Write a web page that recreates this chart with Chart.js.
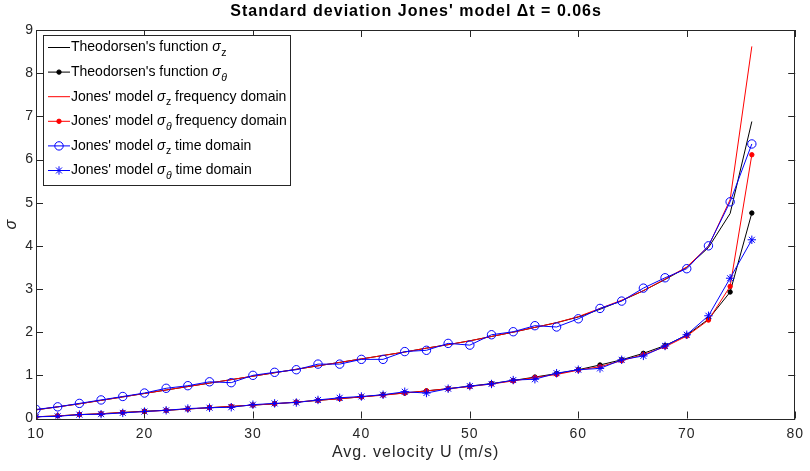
<!DOCTYPE html>
<html><head><meta charset="utf-8">
<script src="https://cdn.jsdelivr.net/npm/chart.js@4"></script>
<style>html,body{margin:0;padding:0;background:#fff}</style>
</head><body>
<canvas id="c" width="810" height="471"></canvas>
<script>
const velocity = [10,12,14,16,18,20,22,24,26,28,30,32,34,36,38,40,42,44,46,48,50,52,54,56,58,60,62,64,66,68,70,72,74,76];
const theoSigmaZ = [0.20,0.27,0.34,0.42,0.50,0.58,0.66,0.74,0.82,0.90,0.98,1.06,1.14,1.22,1.30,1.38,1.46,1.54,1.63,1.71,1.80,1.90,2.00,2.11,2.22,2.35,2.53,2.73,2.96,3.22,3.50,3.96,4.75,6.88];
const theoSigmaTheta = [0.04,0.06,0.09,0.11,0.14,0.17,0.19,0.22,0.25,0.28,0.31,0.34,0.38,0.42,0.46,0.50,0.55,0.59,0.64,0.69,0.75,0.81,0.88,0.96,1.04,1.13,1.24,1.36,1.51,1.69,1.93,2.30,2.93,4.76];
const freqSigmaZ = [0.20,0.27,0.34,0.42,0.50,0.58,0.66,0.74,0.82,0.90,0.98,1.06,1.14,1.22,1.30,1.38,1.46,1.54,1.63,1.71,1.80,1.90,2.00,2.11,2.22,2.36,2.55,2.74,2.96,3.23,3.51,3.99,5.07,8.62];
const freqSigmaTheta = [0.04,0.06,0.09,0.11,0.14,0.16,0.19,0.22,0.25,0.28,0.31,0.34,0.38,0.42,0.46,0.50,0.54,0.59,0.64,0.69,0.74,0.80,0.87,0.95,1.02,1.12,1.20,1.34,1.48,1.66,1.91,2.28,3.06,6.11];
const timeSigmaZ = [0.21,0.27,0.35,0.43,0.51,0.59,0.70,0.76,0.85,0.83,1.00,1.07,1.13,1.26,1.26,1.37,1.37,1.55,1.58,1.74,1.70,1.94,2.01,2.15,2.12,2.31,2.55,2.72,3.02,3.26,3.47,4.00,5.02,6.36];
const timeSigmaTheta = [0.04,0.05,0.09,0.10,0.13,0.16,0.19,0.23,0.25,0.26,0.32,0.35,0.37,0.43,0.48,0.51,0.55,0.62,0.59,0.69,0.75,0.80,0.89,0.91,1.05,1.13,1.16,1.36,1.45,1.68,1.94,2.38,3.25,4.14];
const xTicks = [10,20,30,40,50,60,70,80];
const yTicks = [0,1,2,3,4,5,6,7,8,9];
const titleText = "Standard deviation Jones' model \u0394t = 0.06s";
const xLabel = "Avg. velocity U (m/s)";
const yLabel = "\u03C3";
const legendItems = [
  {pre:"Theodorsen's function ", sub:"z", post:""},
  {pre:"Theodorsen's function ", sub:"\u03B8", post:""},
  {pre:"Jones' model ", sub:"z", post:" frequency domain"},
  {pre:"Jones' model ", sub:"\u03B8", post:" frequency domain"},
  {pre:"Jones' model ", sub:"z", post:" time domain"},
  {pre:"Jones' model ", sub:"\u03B8", post:" time domain"}
];

const FONT = "'Liberation Sans', Arial, Helvetica, sans-serif";
const AX = '#262626';
const pts = arr => velocity.map((v,i)=>({x:v,y:arr[i]}));

const styles = [
  {color:'#000000', pointStyle:'circle', radius:0},
  {color:'#000000', pointStyle:'circle', radius:2.2, fill:true},
  {color:'#ff0000', pointStyle:'circle', radius:0},
  {color:'#ff0000', pointStyle:'circle', radius:2.2, fill:true},
  {color:'#0000ff', pointStyle:'circle', radius:4.2, fill:false},
  {color:'#0000ff', pointStyle:'star', radius:4.2, fill:false}
];
const series = [theoSigmaZ, theoSigmaTheta, freqSigmaZ, freqSigmaTheta, timeSigmaZ, timeSigmaTheta];

const datasets = series.map((s,i)=>({
  label: legendItems[i].pre + '\u03C3' + legendItems[i].sub + legendItems[i].post,
  data: pts(s),
  borderColor: styles[i].color,
  backgroundColor: styles[i].fill ? styles[i].color : 'rgba(0,0,0,0)',
  pointBorderColor: styles[i].color,
  pointBackgroundColor: styles[i].fill ? styles[i].color : 'rgba(0,0,0,0)',
  pointStyle: styles[i].pointStyle,
  pointRadius: styles[i].radius,
  pointBorderWidth: 1,
  borderWidth: 1,
  tension: 0,
  fill: false,
  order: 6 - i
}));

const decor = {
  id:'decor',
  beforeDraw(chart){
    chart.ctx.letterSpacing = '1px';
  },
  afterDraw(chart){
    const {ctx, chartArea:a, scales:{x,y}} = chart;
    ctx.save();
    ctx.strokeStyle = AX; ctx.lineWidth = 1;
    ctx.strokeRect(Math.round(a.left)+0.5, Math.round(a.top)+0.5, Math.round(a.right-a.left)-1, Math.round(a.bottom-a.top));
    const TL = 7;
    ctx.beginPath();
    xTicks.forEach(v=>{
      const px = Math.round(x.getPixelForValue(v))+0.5;
      ctx.moveTo(px, a.bottom); ctx.lineTo(px, a.bottom-TL);
      ctx.moveTo(px, a.top); ctx.lineTo(px, a.top+TL);
    });
    yTicks.forEach(v=>{
      const py = Math.round(y.getPixelForValue(v))+0.5;
      ctx.moveTo(a.left, py); ctx.lineTo(a.left+TL, py);
      ctx.moveTo(a.right, py); ctx.lineTo(a.right-TL, py);
    });
    ctx.stroke();
    // title
    ctx.fillStyle = '#000';
    ctx.letterSpacing = '1px';
    ctx.font = 'bold 16px ' + FONT;
    ctx.textAlign='center'; ctx.textBaseline='middle';
    ctx.fillText(titleText, (a.left+a.right)/2 + 0.5, 11.5);
    // legend
    ctx.letterSpacing = '0px';
    const L = {x:43.5, y:35.5, w:247, h:150};
    ctx.fillStyle='#fff'; ctx.fillRect(L.x,L.y,L.w,L.h);
    ctx.strokeStyle = AX; ctx.lineWidth=1; ctx.strokeRect(L.x,L.y,L.w,L.h);
    legendItems.forEach((it,i)=>{
      const cy = 47.5 + i*24.6;
      const st = styles[i];
      ctx.strokeStyle = st.color; ctx.lineWidth=1;
      ctx.beginPath(); ctx.moveTo(48, cy); ctx.lineTo(70, cy); ctx.stroke();
      if (st.radius>0){
        ctx.fillStyle = st.fill ? st.color : 'rgba(0,0,0,0)';
        ctx.strokeStyle = st.color;
        Chart.helpers.drawPoint(ctx, {pointStyle:st.pointStyle, radius:st.radius, borderWidth:1, rotation:0}, 59, cy);
      }
      ctx.fillStyle='#000'; ctx.textAlign='left'; ctx.textBaseline='middle';
      let tx = 71;
      ctx.font = '14px ' + FONT;
      ctx.fillText(it.pre, tx, cy); tx += ctx.measureText(it.pre).width;
      ctx.font = 'italic 14px ' + FONT;
      ctx.fillText('\u03C3', tx, cy); tx += ctx.measureText('\u03C3').width + 0.5;
      ctx.font = (it.sub==='z' ? '' : 'italic ') + '10.5px ' + FONT;
      ctx.fillText(it.sub, tx, cy+5.5); tx += ctx.measureText(it.sub).width;
      ctx.font = '14px ' + FONT;
      ctx.fillText(it.post, tx, cy);
    });
    ctx.restore();
  }
};

new Chart(document.getElementById('c').getContext('2d'), {
  type:'line',
  data:{datasets},
  options:{
    responsive:false, animation:false, devicePixelRatio:1,
    layout:{padding:{top:30, right:11, bottom:0, left:0}},
    plugins:{legend:{display:false}, title:{display:false}, tooltip:{enabled:false}},
    scales:{
      x:{type:'linear', min:10, max:80,
         afterFit(s){ s.height = 52.5; },
         afterBuildTicks(s){ s.ticks = xTicks.map(v=>({value:v})); },
         grid:{display:false, drawTicks:false}, border:{display:false},
         ticks:{padding:7, color:AX, font:{size:14, family:FONT}, maxRotation:0},
         title:{display:true, text:xLabel, color:AX, font:{size:16, family:FONT}, padding:{top:0,bottom:9}}
      },
      y:{type:'linear', min:0, max:9,
         afterFit(s){ s.width = 36; },
         afterBuildTicks(s){ s.ticks = yTicks.map(v=>({value:v})); },
         grid:{display:false, drawTicks:false}, border:{display:false},
         ticks:{padding:2, color:AX, font:{size:14, family:FONT}},
         title:{display:true, text:yLabel, color:AX, font:{size:16, family:FONT, style:'italic'}, padding:{top:2,bottom:0}}
      }
    }
  },
  plugins:[decor]
});
</script>
</body></html>
